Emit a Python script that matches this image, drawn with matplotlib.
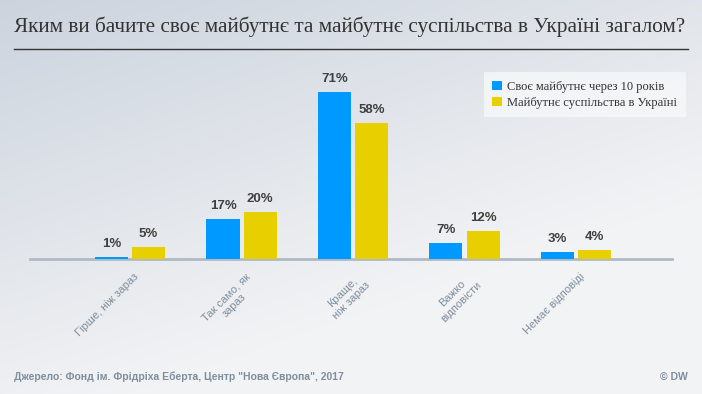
import matplotlib
matplotlib.use("Agg")
import matplotlib.pyplot as plt
import numpy as np

categories = ["Гірше, ніж зараз", "Так само, як\nзараз", "Краще,\nніж зараз",
              "Важко\nвідповісти", "Немає відповіді"]
own_future = [1, 17, 71, 7, 3]
society_future = [5, 20, 58, 12, 4]
series_names = ["Своє майбутнє через 10 років", "Майбутнє суспільства в Україні"]

BLUE = "#0099ff"
YELLOW = "#e8d000"
GREY = "#7f8e9d"

fig = plt.figure(figsize=(7.02, 3.94), dpi=100)

# gradient background
bg = fig.add_axes([0, 0, 1, 1])
yy, xx = np.mgrid[0:1:200j, 0:1:350j]
t = np.clip(0.55 * xx + 0.9 * yy, 0, 1)
c0 = np.array([0.80, 0.83, 0.87])
c1 = np.array([0.95, 0.953, 0.96])
img = c0 + (c1 - c0) * t[..., None]
bg.imshow(img, aspect="auto", extent=[0, 1, 1, 0])
bg.set_xlim(0, 1)
bg.set_ylim(1, 0)
bg.axis("off")

fig.text(14 / 702, 1 - 27 / 394, "Яким ви бачите своє майбутнє та майбутнє суспільства в Україні загалом?",
         family="Liberation Serif", fontsize=15.3, color="#333333", va="center", ha="left")
bg.plot([14 / 702, 688 / 702], [49 / 394, 49 / 394], color="#333333", lw=1)

ax = fig.add_axes([30 / 702, 1 - 259 / 394, 642 / 702, 199 / 394])
ax.set_facecolor("none")
x = np.arange(len(categories))
w = 0.296
off = 0.166
# bars drawn above the baseline spine so the 1% bar stays blue
b1 = ax.bar(x - off, own_future, w, color=BLUE, linewidth=0, zorder=3)
b2 = ax.bar(x + off, society_future, w, color=YELLOW, linewidth=0, zorder=3)
for bars, vals in ((b1, own_future), (b2, society_future)):
    for r, v in zip(bars, vals):
        ax.text(r.get_x() + r.get_width() / 2, v + 3.0, f"{v}%", ha="center", va="bottom",
                fontsize=9.5, fontweight="bold", color="#404040", family="Liberation Sans")

ax.set_xlim(-0.897, 4.861)
ax.set_ylim(0, 84.7)
for s in ["top", "right", "left"]:
    ax.spines[s].set_visible(False)
ax.spines["bottom"].set_color("#b0bac4")
ax.spines["bottom"].set_linewidth(2)
ax.set_yticks([])
ax.set_xticks(x + 0.03)
ax.set_xticklabels(categories, rotation=45, ha="right", va="top", rotation_mode="anchor",
                   fontsize=8, color=GREY, family="Liberation Sans", multialignment="center")
ax.tick_params(axis="x", length=0, pad=9)

# legend
lg = ax.legend([b1, b2], series_names, loc="upper right", bbox_to_anchor=(1.022, 0.94),
               borderaxespad=0, frameon=True, fancybox=False, handlelength=0.8, handleheight=0.8,
               handletextpad=0.4, labelspacing=0.3, borderpad=0.7,
               prop={"family": "Liberation Serif", "size": 9})
lg.get_frame().set_facecolor("#f7f8fa")
lg.get_frame().set_edgecolor("none")
for t_ in lg.get_texts():
    t_.set_color("#333333")

fig.text(14 / 702, 1 - 377 / 394, "Джерело: Фонд ім. Фрідріха Еберта, Центр \"Нова Європа\", 2017",
         family="Liberation Sans", fontsize=7.5, fontweight="bold", color=GREY, va="center")
fig.text(688 / 702, 1 - 377 / 394, "© DW", family="Liberation Sans", fontsize=7.5,
         fontweight="bold", color=GREY, va="center", ha="right")

fig.savefig("out.png", dpi=100)
